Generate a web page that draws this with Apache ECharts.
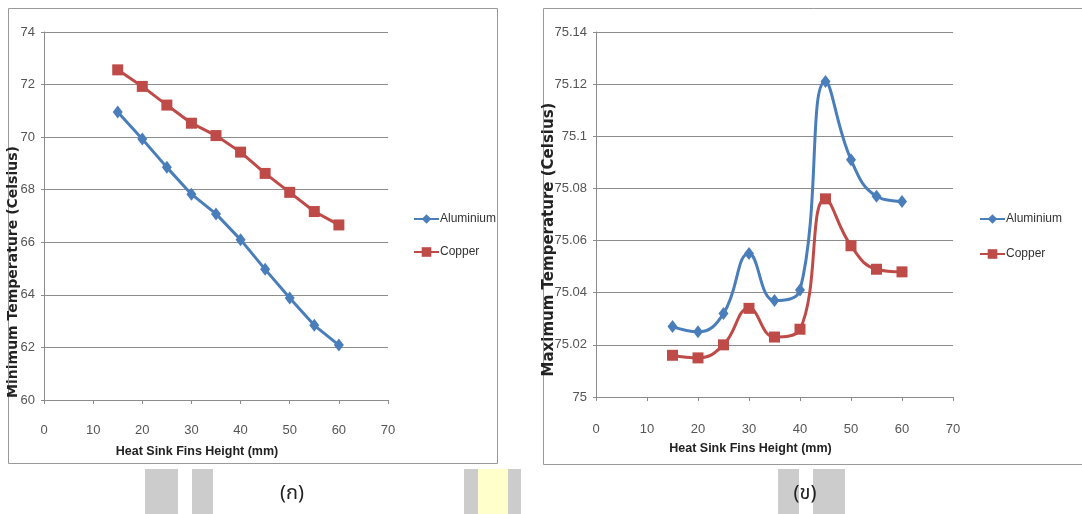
<!DOCTYPE html>
<html>
<head>
<meta charset="utf-8">
<script src="https://cdn.jsdelivr.net/npm/echarts@6/dist/echarts.min.js"></script>
<style>
html,body{margin:0;padding:0;background:#fff;}
#c{width:1082px;height:514px;}
</style>
</head>
<body>
<div id="c"></div>
<script>
// ---- data ----
const heights = [15, 20, 25, 30, 35, 40, 45, 50, 55, 60];
const minTempAluminium = [70.96, 69.93, 68.85, 67.83, 67.08, 66.10, 64.97, 63.88, 62.84, 62.09];
const minTempCopper    = [72.56, 71.93, 71.22, 70.53, 70.06, 69.43, 68.62, 67.90, 67.17, 66.66];
const maxTempAluminium = [75.027, 75.025, 75.032, 75.055, 75.037, 75.041, 75.121, 75.091, 75.077, 75.075];
const maxTempCopper    = [75.016, 75.015, 75.020, 75.034, 75.023, 75.026, 75.076, 75.058, 75.049, 75.048];
const seriesNames = ['Aluminium', 'Copper'];
const panelLabels = ['(ก)', '(ข)'];
const xTitle = 'Heat Sink Fins Height (mm)';
const yTitles = ['Minimum Temperature (Celsius)', 'Maximum Temperature (Celsius)'];

const pairs = (xs, ys) => xs.map((x, i) => [x, ys[i]]);

const BLUE = '#4a7ebb';
const RED = '#be4b48';
const NARROW = '"Liberation Sans Narrow", "Liberation Sans", Arial, sans-serif';

const chart = echarts.init(document.getElementById('c'), null, {renderer: 'canvas'});

function xAxisCfg(gridIndex, padRight, labelMargin) {
  return {
    type: 'value', gridIndex, min: 0, max: 70, interval: 10,
    name: xTitle, nameLocation: 'middle', nameGap: 45,
    nameTextStyle: {fontFamily: NARROW, fontWeight: 'bold', fontSize: 12.5, color: '#222', padding: [0, padRight, 0, 0]},
    axisLine: {show: true, onZero: false, lineStyle: {color: '#8c8c8c', width: 1}},
    axisTick: {show: true, length: 4, lineStyle: {color: '#8c8c8c'}},
    axisLabel: {fontFamily: NARROW, fontSize: 13, color: '#555', margin: labelMargin},
    splitLine: {show: false}
  };
}
function yAxisCfg(gridIndex, min, max, interval, name, nameGap, fontSize, padShift) {
  return {
    type: 'value', gridIndex, min, max, interval,
    name, nameLocation: 'middle', nameGap, nameRotate: 90, nameMoveOverlap: false,
    nameTextStyle: {fontFamily: '"DejaVu Sans", sans-serif', fontWeight: 'bold', fontSize, color: '#222', padding: [0, padShift, 0, 0]},
    axisLine: {show: true, lineStyle: {color: '#8c8c8c', width: 1}},
    axisTick: {show: true, length: 3, lineStyle: {color: '#8c8c8c'}},
    axisLabel: {fontFamily: NARROW, fontSize: 13, color: '#555', margin: 9},
    splitLine: {show: true, lineStyle: {color: '#8c8c8c', width: 1}}
  };
}

function lineSeries(name, data, xi, color, symbol, size, smooth) {
  return {
    type: 'line', name, data, xAxisIndex: xi, yAxisIndex: xi,
    smooth, symbol, symbolSize: size, showSymbol: true,
    lineStyle: {color, width: 3},
    itemStyle: {color},
    emphasis: {disabled: true},
    z: name === 'Aluminium' ? 3 : 2
  };
}

const legendText = {fontFamily: NARROW, fontSize: 12, color: '#333', padding: [0, 0, 0, -4]};

const option = {
  animation: false,
  backgroundColor: '#ffffff',
  title: [
    {text: panelLabels[0], left: 287, top: 480, textAlign: 'center',
     textStyle: {fontFamily: '"Noto Sans Thai", "Noto Sans", sans-serif', fontWeight: 'normal', fontSize: 20, color: '#222'}},
    {text: panelLabels[1], left: 800, top: 480, textAlign: 'center',
     textStyle: {fontFamily: '"Noto Sans Thai", "Noto Sans", sans-serif', fontWeight: 'normal', fontSize: 20, color: '#222'}}
  ],
  legend: [
    {data: seriesNames, orient: 'vertical', left: 408, top: 208, itemWidth: 25, itemHeight: 12, itemGap: 21,
     textStyle: legendText, selectedMode: false},
    {data: seriesNames, orient: 'vertical', left: 974, top: 208, itemWidth: 25, itemHeight: 12, itemGap: 23,
     textStyle: legendText, selectedMode: false}
  ],
  grid: [
    {left: 44, top: 32, width: 344, height: 368, containLabel: false, outerBoundsMode: 'none'},
    {left: 596, top: 32, width: 357, height: 365, containLabel: false, outerBoundsMode: 'none'}
  ],
  xAxis: [xAxisCfg(0, 38, 24), xAxisCfg(1, 48, 26)],
  yAxis: [
    yAxisCfg(0, 60, 74, 2, yTitles[0], 24, 14, 112),
    yAxisCfg(1, 75, 75.14, 0.02, yTitles[1], 39, 15, 50)
  ],
  series: [
    lineSeries(seriesNames[0], pairs(heights, minTempAluminium), 0, BLUE, 'diamond', [10, 13], false),
    lineSeries(seriesNames[1], pairs(heights, minTempCopper), 0, RED, 'rect', 11, false),
    lineSeries(seriesNames[0], pairs(heights, maxTempAluminium), 1, BLUE, 'diamond', [10, 13], 0.45),
    lineSeries(seriesNames[1], pairs(heights, maxTempCopper), 1, RED, 'rect', 11, 0.45)
  ],
  graphic: [
    {type: 'rect', shape: {x: 8.5, y: 8.5, width: 489, height: 455}, style: {fill: 'none', stroke: '#9a9a9a', lineWidth: 1}, z: -10},
    {type: 'rect', shape: {x: 543.5, y: 8.5, width: 560, height: 456}, style: {fill: 'none', stroke: '#9a9a9a', lineWidth: 1}, z: -10},
    {type: 'rect', shape: {x: 145, y: 469, width: 33, height: 45}, style: {fill: '#cccccc'}, z: -10},
    {type: 'rect', shape: {x: 192, y: 469, width: 21, height: 45}, style: {fill: '#cccccc'}, z: -10},
    {type: 'rect', shape: {x: 464, y: 469, width: 57, height: 45}, style: {fill: '#cccccc'}, z: -10},
    {type: 'rect', shape: {x: 478, y: 469, width: 30, height: 45}, style: {fill: '#ffffcc'}, z: -9},
    {type: 'rect', shape: {x: 778, y: 469, width: 21, height: 45}, style: {fill: '#cccccc'}, z: -10},
    {type: 'rect', shape: {x: 813, y: 469, width: 32, height: 45}, style: {fill: '#cccccc'}, z: -10}
  ]
};
chart.setOption(option);
</script>
</body>
</html>
